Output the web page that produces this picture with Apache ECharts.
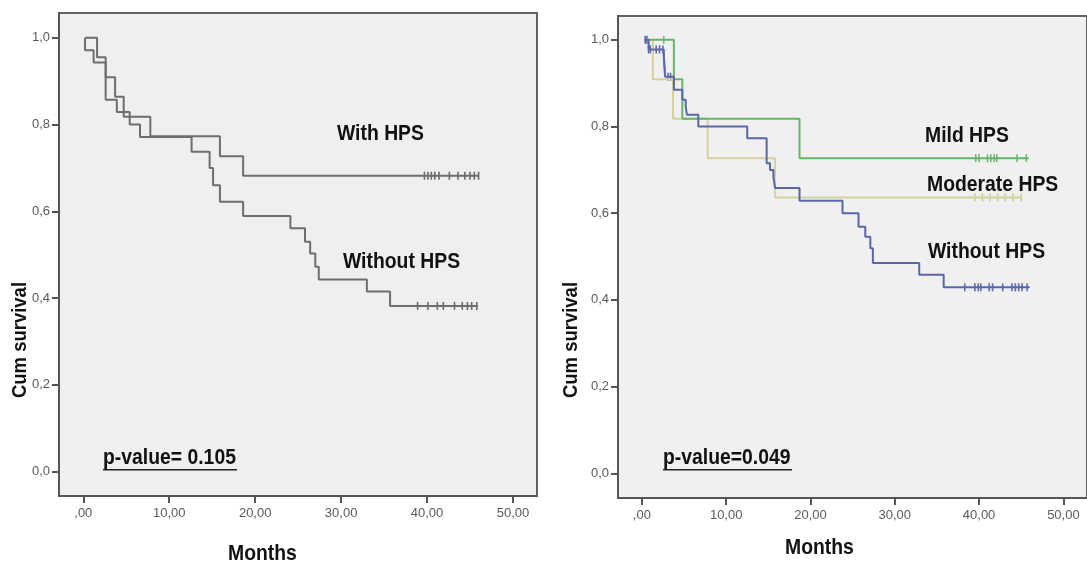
<!DOCTYPE html>
<html>
<head>
<meta charset="utf-8">
<title>Survival by HPS</title>
<script src="https://cdn.jsdelivr.net/npm/echarts@6.0.0/dist/echarts.min.js"></script>
<style>
  html, body { margin: 0; padding: 0; background: #fff; }
  #chart { width: 1087px; height: 563px; }
</style>
</head>
<body>
<div id="chart"></div>
<script>
// left panel: with / without HPS (months, cumulative survival)
const withTime = [0.2, 1.6, 2.6, 3.7, 4.7, 7.8, 15.9, 18.6, 46.0]
const withSurv = [1.0, 0.955, 0.909, 0.864, 0.818, 0.773, 0.727, 0.682, 0.682]
const withCensor = [39.7, 40.1, 40.5, 40.9, 41.4, 42.6, 43.6, 44.4, 45.0, 45.5, 46.0]

const withoutTime = [0.2, 0.2, 1.2, 2.6, 3.9, 5.4, 6.6, 12.6, 14.7, 15.1, 15.9, 18.6, 24.1, 25.8, 26.4, 27.0, 27.4, 33.0, 35.7, 45.9]
const withoutSurv = [1.0, 0.971, 0.943, 0.857, 0.829, 0.800, 0.771, 0.737, 0.700, 0.660, 0.622, 0.589, 0.561, 0.530, 0.503, 0.472, 0.443, 0.415, 0.382, 0.382]
const withoutCensor = [38.9, 40.1, 41.2, 41.9, 43.2, 44.1, 44.7, 45.2, 45.8]

// right panel: mild / moderate / without HPS
const mildTime = [0.3, 3.8, 4.8, 18.7, 45.9]
const mildSurv = [1.0, 0.909, 0.818, 0.727, 0.727]
const mildCensor = [2.6, 39.6, 40.0, 41.0, 41.4, 41.8, 42.1, 44.5, 45.6]

const modTime = [0.3, 1.3, 3.7, 7.8, 15.8, 45.1]
const modSurv = [1.0, 0.909, 0.818, 0.727, 0.636, 0.636]
const modCensor = [39.5, 40.4, 41.3, 42.2, 43.1, 44.0, 45.0]

const noneTime = [0.3, 0.8, 2.6, 2.65, 2.7, 2.75, 3.8, 4.8, 5.2, 5.35, 6.7, 12.5, 14.8, 15.2, 15.6, 15.8, 18.7, 23.8, 25.7, 26.5, 27.1, 27.4, 32.9, 35.8, 46.0]
const noneSurv = [1.0, 0.978, 0.962, 0.946, 0.93, 0.915, 0.885, 0.862, 0.846, 0.827, 0.800, 0.773, 0.715, 0.700, 0.684, 0.658, 0.629, 0.600, 0.569, 0.546, 0.519, 0.485, 0.458, 0.429, 0.429]
const noneCensor = [0.4, 0.6, 0.8, 1.0, 1.3, 1.7, 2.1, 2.5, 2.62, 2.67, 2.72, 3.1, 3.4, 38.3, 39.5, 39.9, 40.2, 41.2, 41.6, 42.8, 43.9, 44.3, 44.7, 45.1, 45.7]

const xTicks = [0, 10, 20, 30, 40, 50]
const yTicks = [0, 0.2, 0.4, 0.6, 0.8, 1.0]

function pairs(t, s) {
  return t.map((v, i) => [v, s[i]])
}

// survival value of the curve at time t (last step at or before t)
function survAt(t, times, surv) {
  let v = surv[0]
  for (let i = 0; i < times.length; i++) {
    if (times[i] <= t) v = surv[i]
  }
  return v
}

function stepSeries(idx, times, surv, color) {
  return {
    type: 'line', xAxisIndex: idx, yAxisIndex: idx, step: 'end',
    data: pairs(times, surv), symbol: 'none', silent: true,
    lineStyle: {color: color, width: 2}
  }
}

function censorSeries(idx, marks, times, surv, color) {
  return {
    type: 'scatter', xAxisIndex: idx, yAxisIndex: idx, silent: true,
    data: marks.map(t => [t, survAt(t, times, surv)]),
    symbol: 'rect', symbolSize: [1.6, 8],
    itemStyle: {color: color}
  }
}

const font = "'Liberation Sans', Arial, sans-serif"
// the original uses a condensed bold face; squeeze the text horizontally
const narrow = 0.88

function xAxis(idx) {
  return {
    type: 'value', gridIndex: idx, min: -2.83, max: 52.8,
    axisLine: {onZero: false, lineStyle: {color: '#555', width: 2}},
    axisTick: {length: 7, lineStyle: {color: '#555', width: 2}, customValues: xTicks},
    axisLabel: {
      customValues: xTicks, margin: 11, color: '#5a5a5a', fontSize: 13, fontFamily: font,
      formatter: v => v === 0 ? ',00' : v.toFixed(2).replace('.', ',')
    },
    splitLine: {show: false}
  }
}

function yAxis(idx, min, max) {
  return {
    type: 'value', gridIndex: idx, min: min, max: max,
    axisLine: {onZero: false, lineStyle: {color: '#555', width: 2}},
    axisTick: {length: 7, lineStyle: {color: '#555', width: 2}, customValues: yTicks},
    axisLabel: {
      customValues: yTicks, margin: 9, color: '#5a5a5a', fontSize: 13, fontFamily: font,
      formatter: v => v.toFixed(1).replace('.', ',')
    },
    splitLine: {show: false}
  }
}

function label(text, x, y, size) {
  return {
    type: 'text', x: x, y: y, scaleX: narrow, silent: true,
    style: {text: text, fill: '#111', font: 'bold ' + size + 'px ' + font, verticalAlign: 'middle'}
  }
}

function underlined(text, x, y, w) {
  return [
    label(text, x, y, 22),
    {type: 'rect', silent: true, shape: {x: x, y: y + 11, width: w, height: 1.6}, style: {fill: '#222'}}
  ]
}

function yTitle(x) {
  return {
    type: 'text', x: x, y: 340, rotation: Math.PI / 2, scaleX: narrow, silent: true,
    style: {text: 'Cum survival', fill: '#111', font: 'bold 21px ' + font, align: 'center', verticalAlign: 'middle'}
  }
}

const chart = echarts.init(document.getElementById('chart'))
chart.setOption({
  backgroundColor: '#fff',
  animation: false,
  grid: [
    {left: 59, top: 13, width: 478, height: 483, show: true, backgroundColor: '#efefef', borderColor: '#626262', borderWidth: 2},
    {left: 618, top: 16, width: 478, height: 482, show: true, backgroundColor: '#f0f0f0', borderColor: '#626262', borderWidth: 2}
  ],
  xAxis: [xAxis(0), xAxis(1)],
  yAxis: [yAxis(0, -0.056, 1.057), yAxis(1, -0.057, 1.055)],
  series: [
    stepSeries(0, withoutTime, withoutSurv, '#6e6e6e'),
    stepSeries(0, withTime, withSurv, '#6e6e6e'),
    censorSeries(0, withoutCensor, withoutTime, withoutSurv, '#4a4a4a'),
    censorSeries(0, withCensor, withTime, withSurv, '#4a4a4a'),
    stepSeries(1, modTime, modSurv, '#d3d29c'),
    stepSeries(1, mildTime, mildSurv, '#62b765'),
    stepSeries(1, noneTime, noneSurv, '#5a66aa'),
    censorSeries(1, modCensor, modTime, modSurv, '#c9c68a'),
    censorSeries(1, mildCensor, mildTime, mildSurv, '#4fae55'),
    censorSeries(1, noneCensor, noneTime, noneSurv, '#3b4a9e')
  ],
  graphic: [
    label('With HPS', 337, 134, 22),
    label('Without HPS', 343, 262, 22),
    label('Mild HPS', 925, 136, 22),
    label('Moderate HPS', 927, 185, 22),
    label('Without HPS', 928, 252, 22),
    ...underlined('p-value= 0.105', 103, 458, 134),
    ...underlined('p-value=0.049', 663, 458, 129),
    label('Months', 228, 554, 22),
    label('Months', 785, 548, 22),
    yTitle(20),
    yTitle(571)
  ]
})
</script>
</body>
</html>
